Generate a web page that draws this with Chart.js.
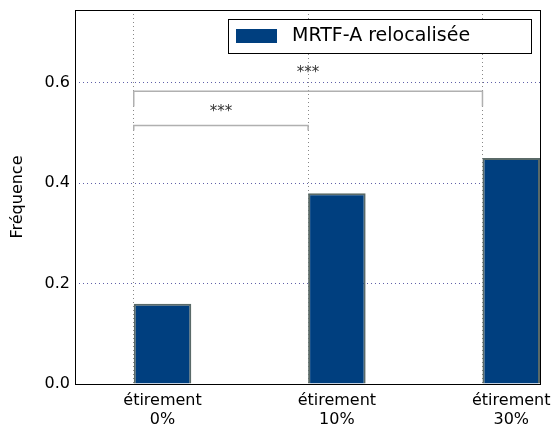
<!DOCTYPE html>
<html>
<head>
<meta charset="utf-8">
<script src="https://cdn.jsdelivr.net/npm/chart.js@4"></script>
<style>
  html, body { margin: 0; padding: 0; background: #fff; }
  #wrap { width: 553px; height: 430px; }
</style>
</head>
<body>
<div id="wrap"><canvas id="barChart"></canvas></div>
<script>
// données
const categories = [['étirement', '0%'], ['étirement', '10%'], ['étirement', '30%']];
const positions = [0, 1, 2];
const frequencies = [0.16, 0.38, 0.45];
const barWidth = 0.33;
const yTicks = [0.0, 0.2, 0.4, 0.6];

// crochets de significativité
const bracketFrom = [0, 0];
const bracketTo = [1, 2];
const bracketY = [0.515, 0.583];
const bracketDrop = [0.01, 0.03];
const bracketLabelY = [0.545, 0.624];
const bracketLabels = ['***', '***'];

const FONT = "'DejaVu Sans', sans-serif";

const frameAndNotes = {
  id: 'frameAndNotes',
  afterDatasetsDraw(chart) {
    const { ctx, chartArea: a, scales: { x, y } } = chart;
    ctx.save();
    // crochets
    ctx.strokeStyle = '#b0b0b0';
    ctx.lineWidth = 1.5;
    for (let i = 0; i < bracketFrom.length; i++) {
      const x1 = x.getPixelForValue(bracketFrom[i]);
      const x2 = x.getPixelForValue(bracketTo[i]);
      const yy = y.getPixelForValue(bracketY[i]);
      const yd = y.getPixelForValue(bracketY[i] - bracketDrop[i]);
      ctx.beginPath();
      ctx.moveTo(x1, yd);
      ctx.lineTo(x1, yy);
      ctx.lineTo(x2, yy);
      ctx.lineTo(x2, yd);
      ctx.stroke();
      ctx.fillStyle = '#333';
      ctx.font = '15px ' + FONT;
      ctx.textAlign = 'center';
      ctx.textBaseline = 'middle';
      ctx.fillText(bracketLabels[i], x.getPixelForValue((bracketFrom[i] + bracketTo[i]) / 2),
        y.getPixelForValue(bracketLabelY[i]) + 2);
    }
    // cadre
    ctx.strokeStyle = '#000';
    ctx.lineWidth = 1;
    ctx.strokeRect(Math.round(a.left) + 0.5, Math.round(a.top) + 0.5,
      Math.round(a.right - a.left), Math.round(a.bottom - a.top));
    // légende
    const ds = chart.data.datasets[0];
    ctx.fillStyle = '#fff';
    ctx.fillRect(228.5, 19.5, 303, 34);
    ctx.strokeRect(228.5, 19.5, 303, 34);
    ctx.fillStyle = ds.backgroundColor;
    ctx.fillRect(236, 29, 41, 14);
    ctx.fillStyle = '#000';
    ctx.font = '19px ' + FONT;
    ctx.textAlign = 'left';
    ctx.textBaseline = 'middle';
    ctx.fillText(ds.label, 292, 36);
    ctx.restore();
  }
};

new Chart(document.getElementById('barChart').getContext('2d'), {
  type: 'bar',
  data: {
    datasets: [{
      label: 'MRTF-A relocalisée',
      data: positions.map((p, i) => ({ x: p + barWidth / 2, y: frequencies[i] })),
      backgroundColor: '#003f7f',
      borderColor: '#5a6a68',
      borderWidth: 2,
      categoryPercentage: 1,
      barPercentage: barWidth
    }]
  },
  options: {
    responsive: true,
    maintainAspectRatio: false,
    animation: false,
    layout: { padding: { left: 0, right: 13, top: 10, bottom: 0 } },
    plugins: { legend: { display: false }, tooltip: { enabled: false } },
    scales: {
      x: {
        type: 'linear',
        offset: false,
        min: -0.337,
        max: 2.33,
        afterBuildTicks: s => { s.ticks = positions.map(v => ({ value: v })); },
        afterFit: s => { s.height = 0; s.paddingLeft = 0; s.paddingRight = 0; },
        ticks: { display: false },
        grid: { offset: false, color: '#888', lineWidth: 1, drawTicks: false },
        border: { display: true, color: '#000', dash: [1, 3] }
      },
      xLabels: {
        type: 'linear',
        position: 'bottom',
        offset: false,
        min: -0.337,
        max: 2.33,
        afterBuildTicks: s => { s.ticks = positions.map(v => ({ value: v + barWidth / 2 })); },
        afterFit: s => { s.height = 46; s.paddingLeft = 0; s.paddingRight = 0; },
        grid: { display: false, offset: false },
        border: { display: false },
        ticks: {
          autoSkip: false,
          maxRotation: 0,
          padding: 0,
          color: '#000',
          font: { family: FONT, size: 16, lineHeight: 1.15 },
          callback: (v, i) => categories[i]
        }
      },
      y: {
        min: 0,
        max: 0.745,
        afterBuildTicks: s => { s.ticks = yTicks.map(v => ({ value: v })); },
        afterFit: s => { s.width = 75; s.paddingTop = 0; s.paddingBottom = 0; },
        ticks: {
          color: '#000',
          padding: 5,
          font: { family: FONT, size: 16 },
          callback: v => v.toFixed(1)
        },
        grid: { color: '#6060a8', drawTicks: false },
        border: { display: false, dash: [1, 3] },
        title: {
          display: true,
          text: 'Fréquence',
          color: '#000',
          font: { family: FONT, size: 16 },
          padding: { top: 8, bottom: 0 }
        }
      }
    }
  },
  plugins: [frameAndNotes]
});
</script>
</body>
</html>
